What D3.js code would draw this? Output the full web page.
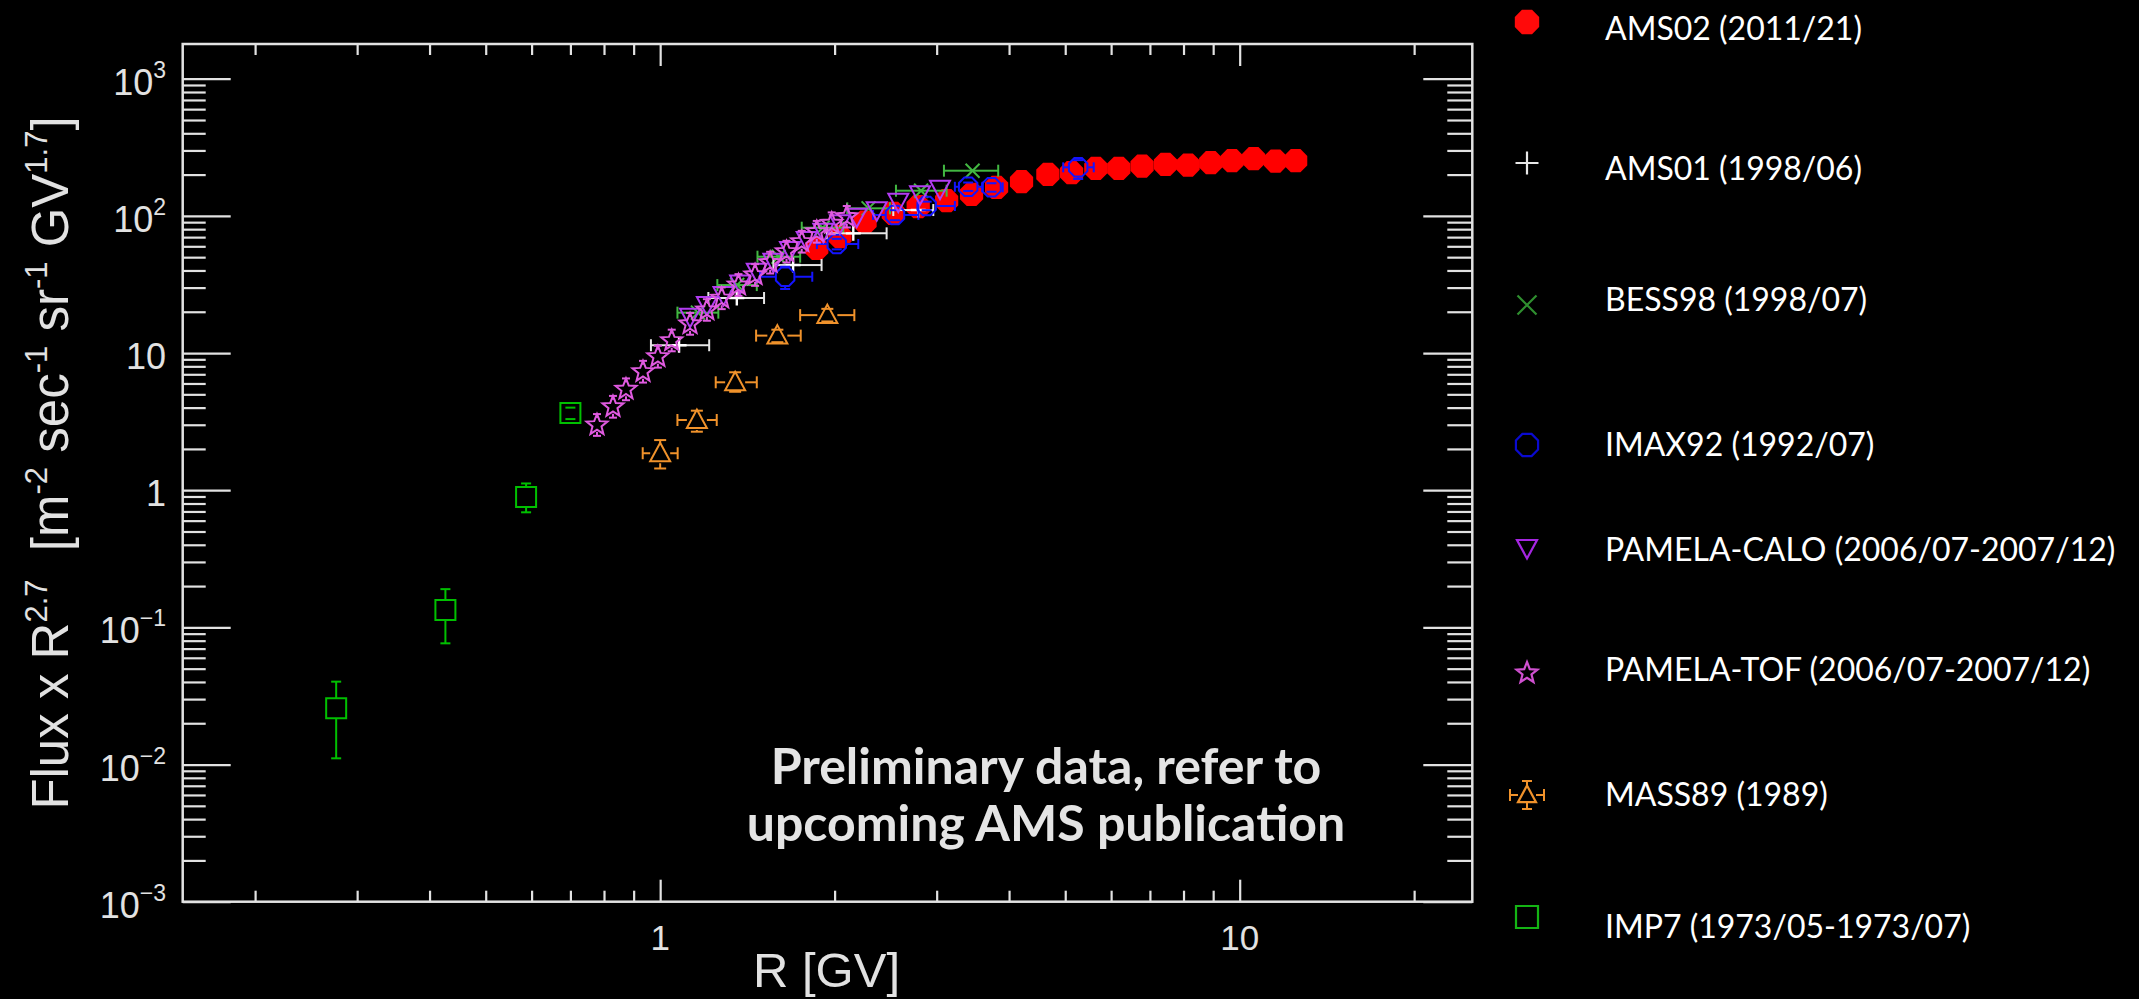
<!DOCTYPE html>
<html>
<head>
<meta charset="utf-8">
<script src="https://cdn.jsdelivr.net/npm/d3@7"></script>
<style>
  html, body { margin: 0; padding: 0; background: #000; overflow: hidden; }
  svg { display: block; }
</style>
</head>
<body>
<svg id="chart" width="2139" height="999"></svg>
<script>
// ---- Data: rigidity R [GV] and flux x R^2.7, with error ranges ----
const ams02 = [
  {r: 1.863, f: 58.0}, {r: 2.043, f: 70.5}, {r: 2.257, f: 90.2}, {r: 2.525, f: 104.4},
  {r: 2.788, f: 116.6}, {r: 3.121, f: 129.0}, {r: 3.446, f: 143.6}, {r: 3.806, f: 161.5},
  {r: 4.203, f: 177.4}, {r: 4.667, f: 200.9}, {r: 5.128, f: 206.4}, {r: 5.646, f: 222.2},
  {r: 6.185, f: 222.2}, {r: 6.785, f: 231.0}, {r: 7.446, f: 237.7}, {r: 8.145, f: 234.9},
  {r: 8.913, f: 244.1}, {r: 9.699, f: 252.5}, {r: 10.57, f: 261.0}, {r: 11.53, f: 251.2},
  {r: 12.49, f: 252.5}
];

const ams01 = [
  {r: 1.078, f: 11.4, rLo: 0.964, rHi: 1.215},
  {r: 1.356, f: 25.2, rLo: 1.211, rHi: 1.511},
  {r: 1.696, f: 43.8, rLo: 1.568, rHi: 1.899},
  {r: 2.154, f: 74.6, rLo: 1.939, rHi: 2.459},
  {r: 2.788, f: 110.3, rLo: 2.525, rHi: 2.960}
];

const bess98 = [
  {r: 1.162, f: 19.7, rLo: 1.071, rHi: 1.260},
  {r: 1.358, f: 31.3, rLo: 1.255, rHi: 1.468},
  {r: 1.601, f: 50.4, rLo: 1.472, rHi: 1.744},
  {r: 1.907, f: 82.0, rLo: 1.755, rHi: 2.070},
  {r: 2.289, f: 113.5, rLo: 2.103, rHi: 2.492},
  {r: 2.820, f: 152.6, rLo: 2.552, rHi: 3.121},
  {r: 3.460, f: 213.5, rLo: 3.088, rHi: 3.831}
];

const imax92 = [
  {r: 1.643, f: 36.0, rLo: 1.487, rHi: 1.830, fLo: 29.3, fHi: 42.6},
  {r: 2.017, f: 62.4, rLo: 1.864, rHi: 2.197, fLo: 57.0, fHi: 68.0},
  {r: 2.542, f: 101.5, rLo: 2.330, rHi: 2.790, fLo: 93.0, fHi: 110.0},
  {r: 2.883, f: 118.0, rLo: 2.790, rHi: 3.225, fLo: 110.0, fHi: 127.0},
  {r: 3.400, f: 163.0, rLo: 3.225, rHi: 3.600, fLo: 152.0, fHi: 175.0},
  {r: 3.730, f: 161.5, rLo: 3.600, rHi: 3.900, fLo: 150.0, fHi: 173.0},
  {r: 5.264, f: 226.0, rLo: 4.960, rHi: 5.600, fLo: 186.0, fHi: 255.0}
];

const pamelaCalo = [
  {r: 1.126, f: 18.4}, {r: 1.204, f: 22.4}, {r: 1.286, f: 26.5}, {r: 1.374, f: 32.2},
  {r: 1.468, f: 39.2}, {r: 1.568, f: 46.3}, {r: 1.675, f: 56.4}, {r: 1.790, f: 66.7},
  {r: 1.912, f: 76.7}, {r: 2.043, f: 88.3}, {r: 2.183, f: 98.7}, {r: 2.364, f: 110.0},
  {r: 2.576, f: 127.0}, {r: 2.808, f: 144.0}, {r: 3.040, f: 158.0}
];

const pamelaTof = [
  {r: 0.778, f: 2.99, fLo: 2.49, fHi: 3.59}, {r: 0.829, f: 4.06, fLo: 3.38, fHi: 4.87},
  {r: 0.873, f: 5.44, fLo: 4.53, fHi: 6.53}, {r: 0.934, f: 7.31, fLo: 6.09, fHi: 8.77},
  {r: 0.991, f: 9.40, fLo: 7.83, fHi: 11.3}, {r: 1.047, f: 12.3, fLo: 10.3, fHi: 14.8},
  {r: 1.126, f: 16.3, fLo: 13.6, fHi: 19.6}, {r: 1.204, f: 20.6, fLo: 17.2, fHi: 24.7},
  {r: 1.277, f: 25.1, fLo: 20.9, fHi: 30.1}, {r: 1.365, f: 31.3, fLo: 26.1, fHi: 37.6},
  {r: 1.458, f: 37.1, fLo: 30.9, fHi: 44.5}, {r: 1.548, f: 45.6, fLo: 38.0, fHi: 54.7},
  {r: 1.652, f: 54.8, fLo: 45.7, fHi: 65.8}, {r: 1.755, f: 64.8, fLo: 54.0, fHi: 77.8},
  {r: 1.863, f: 76.6, fLo: 63.8, fHi: 91.9}, {r: 1.977, f: 88.2, fLo: 73.5, fHi: 106},
  {r: 2.099, f: 98.7, fLo: 82.3, fHi: 118}
];

const mass89 = [
  {r: 1.000, f: 1.86, rLo: 0.933, rHi: 1.072, fLo: 1.44, fHi: 2.32},
  {r: 1.157, f: 3.25, rLo: 1.071, rHi: 1.252, fLo: 2.67, fHi: 3.80},
  {r: 1.347, f: 6.12, rLo: 1.247, rHi: 1.468, fLo: 5.22, fHi: 7.24},
  {r: 1.593, f: 13.4, rLo: 1.464, rHi: 1.748, fLo: 12.0, fHi: 14.8},
  {r: 1.943, f: 18.9, rLo: 1.744, rHi: 2.163, fLo: 17.0, fHi: 21.0}
];

const imp7 = [
  {r: 0.276, f: 0.0257, fLo: 0.0111, fHi: 0.0402},
  {r: 0.426, f: 0.134, fLo: 0.0765, fHi: 0.190},
  {r: 0.587, f: 0.892, fLo: 0.690, fHi: 1.120},
  {r: 0.700, f: 3.65, fLo: 3.30, fHi: 4.00}
];

// Tick labels
const xTickValues = [1, 10];
const xTickLabels = ["1", "10"];
const yTickValues = [0.001, 0.01, 0.1, 1, 10, 100, 1000];
const yTickBase = ["10", "10", "10", "1", "10", "10", "10"];
const yTickSup = ["\u22123", "\u22122", "\u22121", "", "", "2", "3"];

// Legend entries, top to bottom
const legendLabels = [
  "AMS02 (2011/21)",
  "AMS01 (1998/06)",
  "BESS98 (1998/07)",
  "IMAX92 (1992/07)",
  "PAMELA-CALO (2006/07-2007/12)",
  "PAMELA-TOF (2006/07-2007/12)",
  "MASS89 (1989)",
  "IMP7 (1973/05-1973/07)"
];

const noteLines = ["Preliminary data, refer to", "upcoming AMS publication"];

// ---- Layout ----
const svg = d3.select("#chart");
svg.append("rect").attr("width", 2139).attr("height", 999).attr("fill", "#000");

const plotL = 182.7, plotR = 1472.3, plotT = 44, plotB = 901.7;
const x = d3.scaleLog().domain([0.15, 25.2]).range([plotL, plotR]);
const y = d3.scaleLog().domain([0.001, 1791]).range([plotB, plotT]);

const axisColor = "#e2e2e2";
const axisFont = "'Liberation Sans', Arial, sans-serif";

// ---- Axes and frame ----
const isPow10 = v => Math.abs(Math.log10(v) - Math.round(Math.log10(v))) < 1e-9;
const xAll = x.ticks(), yAll = y.ticks();
const xMajor = xAll.filter(isPow10), xMinor = xAll.filter(v => !isPow10(v));
const yMajor = yAll.filter(isPow10), yMinor = yAll.filter(v => !isPow10(v));

function tickSet(axis, pos, values, size) {
  svg.append("g")
    .attr("transform", pos)
    .call(axis.tickValues(values).tickSize(size).tickFormat(""))
    .call(g => g.select(".domain").remove())
    .call(g => g.selectAll("line").attr("stroke", axisColor).attr("stroke-width", 2.2));
}
tickSet(d3.axisBottom(x), `translate(0,${plotB})`, xMinor, -11);
tickSet(d3.axisBottom(x), `translate(0,${plotB})`, xMajor, -22);
tickSet(d3.axisTop(x), `translate(0,${plotT})`, xMinor, -11);
tickSet(d3.axisTop(x), `translate(0,${plotT})`, xMajor, -22);
tickSet(d3.axisLeft(y), `translate(${plotL},0)`, yMinor, -23);
tickSet(d3.axisLeft(y), `translate(${plotL},0)`, yMajor, -48);
tickSet(d3.axisRight(y), `translate(${plotR},0)`, yMinor, -25);
tickSet(d3.axisRight(y), `translate(${plotR},0)`, yMajor, -49);

svg.append("rect")
  .attr("x", plotL).attr("y", plotT)
  .attr("width", plotR - plotL).attr("height", plotB - plotT)
  .attr("fill", "none").attr("stroke", axisColor).attr("stroke-width", 2.5);

// y tick labels (powers of ten)
yTickValues.forEach((v, i) => {
  const t = svg.append("text")
    .attr("x", 166).attr("y", y(v) + 16)
    .attr("text-anchor", "end")
    .attr("font-family", axisFont).attr("font-size", 36)
    .attr("fill", axisColor);
  t.append("tspan").text(yTickBase[i]);
  if (yTickSup[i]) {
    t.append("tspan").attr("dy", -17).attr("font-size", 23).text(yTickSup[i]);
  }
});

// x tick labels
xTickValues.forEach((v, i) => {
  svg.append("text")
    .attr("x", x(v)).attr("y", 950)
    .attr("text-anchor", "middle")
    .attr("font-family", axisFont).attr("font-size", 35)
    .attr("fill", axisColor)
    .text(xTickLabels[i]);
});

// axis titles
svg.append("text")
  .attr("x", 753).attr("y", 987)
  .attr("font-family", axisFont).attr("font-size", 49)
  .attr("fill", axisColor)
  .text("R [GV]");

const yTitle = svg.append("text")
  .attr("transform", "translate(68,463) rotate(-90)")
  .attr("text-anchor", "middle")
  .attr("font-family", axisFont).attr("font-size", 51)
  .attr("fill", axisColor);
const titleParts = [
  ["Flux x R", 0], ["2.7", 1], ["\u00a0\u00a0[m", 0], ["-2", 1], [" sec", 0], ["-1", 1],
  [" sr", 0], ["-1", 1], [" GV", 0], ["1.7", 1], ["]", 0]
];
let raised = false;
titleParts.forEach(([txt, sup]) => {
  const ts = yTitle.append("tspan").text(txt);
  if (sup && !raised) { ts.attr("dy", -21).attr("font-size", 31); raised = true; }
  else if (sup) { ts.attr("font-size", 31); }
  else if (!sup && raised) { ts.attr("dy", 21); raised = false; }
});

// ---- Marker shapes ----
function markerPath(type, s) {
  const h = s / 2;
  switch (type) {
    case "octagon": {
      const pts = d3.range(8).map(k => {
        const a = (22.5 + 45 * k) * Math.PI / 180;
        return [h * Math.cos(a), h * Math.sin(a)];
      });
      return "M" + pts.map(p => p.join(",")).join("L") + "Z";
    }
    case "plus": return `M${-h},0H${h}M0,${-h}V${h}`;
    case "cross": return `M${-h},${-h}L${h},${h}M${-h},${h}L${h},${-h}`;
    case "triUp": return `M0,${-h * 1.05}L${h},${h * 0.8}L${-h},${h * 0.8}Z`;
    case "triDown": return `M0,${h * 1.05}L${h},${-h * 0.8}L${-h},${-h * 0.8}Z`;
    case "square": return `M${-h},${-h}H${h}V${h}H${-h}Z`;
    case "star": {
      const pts = d3.range(10).map(k => {
        const rr = k % 2 === 0 ? h * 1.05 : h * 0.45;
        const a = -Math.PI / 2 + k * Math.PI / 5;
        return [rr * Math.cos(a), rr * Math.sin(a)];
      });
      return "M" + pts.map(p => p.join(",")).join("L") + "Z";
    }
  }
}

// Error bars that stop at the marker edge, with end caps
function drawErrors(g, data, color, gap, cap, width) {
  data.forEach(d => {
    const cx = x(d.r), cy = y(d.f);
    const seg = (x1, y1, x2, y2) => g.append("line")
      .attr("x1", x1).attr("y1", y1).attr("x2", x2).attr("y2", y2)
      .attr("stroke", color).attr("stroke-width", width);
    if (d.rLo !== undefined) {
      const xl = x(d.rLo);
      if (xl < cx - gap) seg(xl, cy, cx - gap, cy);
      seg(xl, cy - cap, xl, cy + cap);
    }
    if (d.rHi !== undefined) {
      const xr = x(d.rHi);
      if (xr > cx + gap) seg(cx + gap, cy, xr, cy);
      seg(xr, cy - cap, xr, cy + cap);
    }
    if (d.fLo !== undefined) {
      const yb = y(d.fLo);
      if (yb > cy + gap) seg(cx, cy + gap, cx, yb);
      seg(cx - cap, yb, cx + cap, yb);
    }
    if (d.fHi !== undefined) {
      const yt = y(d.fHi);
      if (yt < cy - gap) seg(cx, yt, cx, cy - gap);
      seg(cx - cap, yt, cx + cap, yt);
    }
  });
}

function drawSeries(data, opt) {
  const g = svg.append("g");
  drawErrors(g, data, opt.barColor || opt.color, opt.gap, opt.cap, opt.barWidth || 2);
  g.selectAll("path.m").data(data).join("path")
    .attr("class", "m")
    .attr("transform", d => `translate(${x(d.r)},${y(d.f)})`)
    .attr("d", markerPath(opt.shape, opt.size))
    .attr("fill", opt.filled ? opt.color : "none")
    .attr("stroke", opt.color)
    .attr("stroke-width", opt.strokeWidth || 2)
    .attr("stroke-linejoin", "miter");
}

const styles = {
  ams02:  {shape: "octagon", size: 23, color: "#ff0000", filled: true, gap: 0, cap: 0},
  ams01:  {shape: "plus", size: 15, color: "#ffffff", barColor: "#e6e6e6", gap: 0, cap: 6, strokeWidth: 2.4},
  bess98: {shape: "cross", size: 14, color: "#42b842", gap: 0, cap: 6},
  imax92: {shape: "octagon", size: 20, color: "#1414ff", gap: 10, cap: 5},
  calo:   {shape: "triDown", size: 20, color: "#b23cf2", gap: 9, cap: 4},
  tof:    {shape: "star", size: 21, color: "#e05ae0", gap: 7, cap: 4},
  mass89: {shape: "triUp", size: 20, color: "#f0922b", gap: 10, cap: 6},
  imp7:   {shape: "square", size: 20, color: "#00c000", gap: 10, cap: 5}
};

drawSeries(ams02, styles.ams02);
drawSeries(bess98, styles.bess98);
drawSeries(ams01, styles.ams01);
drawSeries(imax92, styles.imax92);
drawSeries(pamelaCalo, styles.calo);
drawSeries(pamelaTof, styles.tof);
drawSeries(mass89, styles.mass89);
drawSeries(imp7, styles.imp7);

// ---- Legend ----
const legendFont = "Lato, 'Open Sans', sans-serif";
const legendMarkerX = 1527, legendTextX = 1605;
const legendMarkerY = [22, 163, 305, 445, 548, 673, 795, 917];
const legendTextY = [27, 167, 298, 443, 548, 668, 793, 925];
const legendStyles = [
  {shape: "octagon", size: 24, color: "#ff0a0a", filled: true},
  {shape: "plus", size: 23, color: "#e8e8e8"},
  {shape: "cross", size: 19, color: "#2f8f2f"},
  {shape: "octagon", size: 24, color: "#0a0ad0"},
  {shape: "triDown", size: 20, color: "#a526e0"},
  {shape: "star", size: 21, color: "#d050d0"},
  {shape: "triUp", size: 18, color: "#f0922b", errors: true},
  {shape: "square", size: 22, color: "#14b414"}
];
const lg = svg.append("g");
legendLabels.forEach((label, i) => {
  const st = legendStyles[i];
  const mx = legendMarkerX, my = legendMarkerY[i];
  if (st.errors) {
    const e = lg.append("g").attr("stroke", st.color).attr("stroke-width", 2);
    e.append("line").attr("x1", mx - 17).attr("x2", mx - 9).attr("y1", my).attr("y2", my);
    e.append("line").attr("x1", mx + 9).attr("x2", mx + 17).attr("y1", my).attr("y2", my);
    e.append("line").attr("x1", mx - 17).attr("x2", mx - 17).attr("y1", my - 6).attr("y2", my + 6);
    e.append("line").attr("x1", mx + 17).attr("x2", mx + 17).attr("y1", my - 6).attr("y2", my + 6);
    e.append("line").attr("x1", mx).attr("x2", mx).attr("y1", my - 14).attr("y2", my - 9);
    e.append("line").attr("x1", mx).attr("x2", mx).attr("y1", my + 8).attr("y2", my + 14);
    e.append("line").attr("x1", mx - 5).attr("x2", mx + 5).attr("y1", my - 14).attr("y2", my - 14);
    e.append("line").attr("x1", mx - 5).attr("x2", mx + 5).attr("y1", my + 14).attr("y2", my + 14);
  }
  lg.append("path")
    .attr("transform", `translate(${mx},${my})`)
    .attr("d", markerPath(st.shape, st.size))
    .attr("fill", st.filled ? st.color : "none")
    .attr("stroke", st.color)
    .attr("stroke-width", 2.2);
  lg.append("text")
    .attr("x", legendTextX).attr("y", legendTextY[i])
    .attr("dominant-baseline", "central")
    .attr("font-family", legendFont).attr("font-size", 32)
    .attr("fill", "#ffffff")
    .text(label);
});

// ---- Note in the lower right of the plot ----
noteLines.forEach((line, i) => {
  svg.append("text")
    .attr("x", 1046).attr("y", 784 + i * 57)
    .attr("text-anchor", "middle")
    .attr("font-family", legendFont).attr("font-weight", 700).attr("font-size", 50)
    .attr("fill", "#e4e4e4")
    .text(line);
});
</script>
</body>
</html>
